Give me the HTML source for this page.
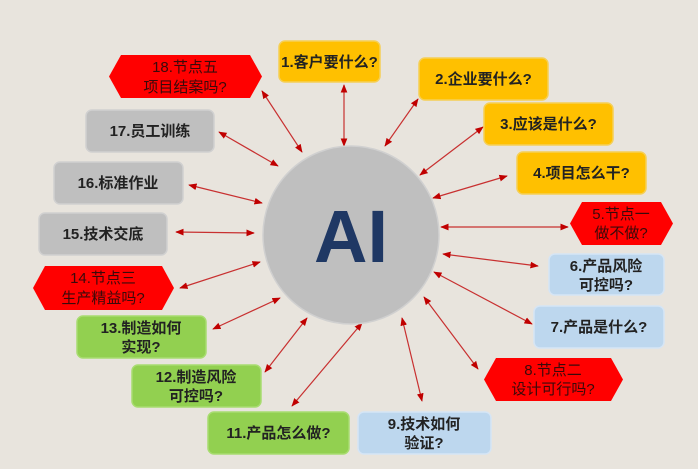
<!DOCTYPE html>
<html><head><meta charset="utf-8"><style>
html,body{margin:0;padding:0;background:#e8e4dd;}
svg{display:block}
text{font-family:"Liberation Sans","Noto Sans CJK SC",sans-serif;}
.b{font-weight:bold;font-size:15px;fill:#222;}
.r{font-size:15px;fill:#3a0a0a;}
</style></head><body>
<svg width="698" height="469" viewBox="0 0 698 469" xmlns="http://www.w3.org/2000/svg">
<defs>
<marker id="a" viewBox="0 0 10 10" refX="9" refY="5" markerWidth="7" markerHeight="7" orient="auto-start-reverse"><path d="M0,1 L10,5 L0,9 z" fill="#c00000"/></marker>
</defs>
<rect width="698" height="469" fill="#e8e4dd"/>
<g stroke="#c83030" stroke-width="1.2" marker-start="url(#a)" marker-end="url(#a)">
<line x1="344" y1="85" x2="344" y2="146"/>
<line x1="418" y1="99" x2="385" y2="146"/>
<line x1="483" y1="127" x2="420" y2="175"/>
<line x1="507" y1="176" x2="433" y2="198"/>
<line x1="441" y1="227" x2="568" y2="227"/>
<line x1="538" y1="266" x2="443" y2="254"/>
<line x1="532" y1="324" x2="434" y2="272"/>
<line x1="478" y1="369" x2="424" y2="297"/>
<line x1="422" y1="401" x2="402" y2="318"/>
<line x1="292" y1="406" x2="362" y2="323"/>
<line x1="265" y1="372" x2="307" y2="318"/>
<line x1="213" y1="329" x2="280" y2="298"/>
<line x1="180" y1="288" x2="260" y2="262"/>
<line x1="176" y1="232" x2="254" y2="233"/>
<line x1="189" y1="185" x2="262" y2="203"/>
<line x1="219" y1="132" x2="278" y2="166"/>
<line x1="262" y1="91" x2="302" y2="152"/>
</g>
<ellipse cx="351" cy="235" rx="88" ry="89" fill="#bfbfbf" stroke="#d0d0d0" stroke-width="1.5"/>
<text x="351" y="262" text-anchor="middle" style="font-size:74px;font-weight:bold;fill:#1f3864">AI</text>

<g stroke-width="1.5">
<rect x="279" y="41" width="101" height="41" rx="6" fill="#ffc000" stroke="#f5cf55"/>
<rect x="419" y="58" width="129" height="42" rx="6" fill="#ffc000" stroke="#f5cf55"/>
<rect x="484" y="103" width="129" height="42" rx="6" fill="#ffc000" stroke="#f5cf55"/>
<rect x="517" y="152" width="129" height="42" rx="6" fill="#ffc000" stroke="#f5cf55"/>
<rect x="549" y="254" width="115" height="41" rx="6" fill="#bdd7ee" stroke="#d5e5f5"/>
<rect x="534" y="306" width="130" height="42" rx="6" fill="#bdd7ee" stroke="#d5e5f5"/>
<rect x="358" y="412" width="133" height="42" rx="6" fill="#bdd7ee" stroke="#d5e5f5"/>
<rect x="208" y="412" width="141" height="42" rx="6" fill="#92d050" stroke="#a8dc70"/>
<rect x="132" y="365" width="129" height="42" rx="6" fill="#92d050" stroke="#a8dc70"/>
<rect x="77" y="316" width="129" height="42" rx="6" fill="#92d050" stroke="#a8dc70"/>
<rect x="39" y="213" width="128" height="42" rx="6" fill="#bfbfbf" stroke="#d0d0d0"/>
<rect x="54" y="162" width="129" height="42" rx="6" fill="#bfbfbf" stroke="#d0d0d0"/>
<rect x="86" y="110" width="128" height="42" rx="6" fill="#bfbfbf" stroke="#d0d0d0"/>
</g>
<g fill="#ff0000">
<polygon points="582,202 661,202 673,223.5 661,245 582,245 570,223.5"/>
<polygon points="496,358 611,358 623,379.5 611,401 496,401 484,379.5"/>
<polygon points="45,266 162,266 174,288 162,310 45,310 33,288"/>
<polygon points="121,55 250,55 262,76.5 250,98 121,98 109,76.5"/>
</g>

<text class="b" x="329.5" y="67" text-anchor="middle">1.客户要什么?</text>
<text class="b" x="483.5" y="84" text-anchor="middle">2.企业要什么?</text>
<text class="b" x="548.5" y="129" text-anchor="middle">3.应该是什么?</text>
<text class="b" x="581.5" y="178" text-anchor="middle">4.项目怎么干?</text>
<text class="r" x="621" y="219" text-anchor="middle">5.节点一</text>
<text class="r" x="621" y="238" text-anchor="middle">做不做?</text>
<text class="b" x="606" y="271" text-anchor="middle">6.产品风险</text>
<text class="b" x="606" y="290" text-anchor="middle">可控吗?</text>
<text class="b" x="599" y="332" text-anchor="middle">7.产品是什么?</text>
<text class="r" x="553" y="375" text-anchor="middle">8.节点二</text>
<text class="r" x="553" y="394" text-anchor="middle">设计可行吗?</text>
<text class="b" x="424" y="429" text-anchor="middle">9.技术如何</text>
<text class="b" x="424" y="448" text-anchor="middle">验证?</text>
<text class="b" x="278.5" y="438" text-anchor="middle">11.产品怎么做?</text>
<text class="b" x="196" y="382" text-anchor="middle">12.制造风险</text>
<text class="b" x="196" y="401" text-anchor="middle">可控吗?</text>
<text class="b" x="141" y="333" text-anchor="middle">13.制造如何</text>
<text class="b" x="141" y="352" text-anchor="middle">实现?</text>
<text class="r" x="103" y="283" text-anchor="middle">14.节点三</text>
<text class="r" x="103" y="303" text-anchor="middle">生产精益吗?</text>
<text class="b" x="103" y="239" text-anchor="middle">15.技术交底</text>
<text class="b" x="118" y="188" text-anchor="middle">16.标准作业</text>
<text class="b" x="150" y="136" text-anchor="middle">17.员工训练</text>
<text class="r" x="185" y="72" text-anchor="middle">18.节点五</text>
<text class="r" x="185" y="92" text-anchor="middle">项目结案吗?</text>
</svg>
</body></html>
